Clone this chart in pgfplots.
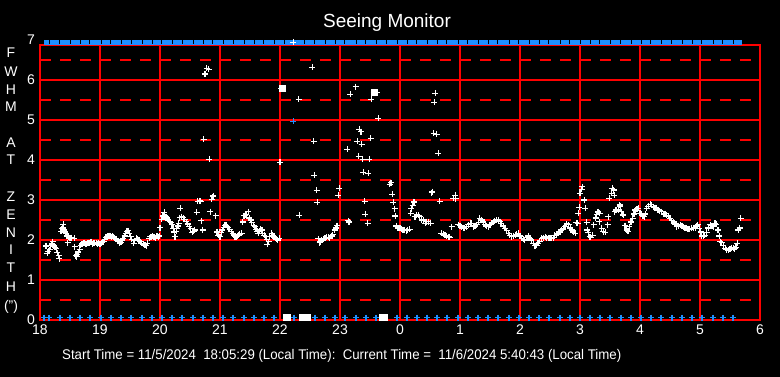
\documentclass[border=0pt]{standalone}
\usepackage{graphicx}
\usepackage{pgfplots}
\pgfplotsset{compat=1.18}
\usepackage{fontspec}
\setmainfont{Liberation Sans}
\definecolor{gridred}{RGB}{255,0,0}
\definecolor{dblue}{RGB}{30,144,255}
\newcommand{\tfont}{\fontsize{14}{16}\selectfont}
\begin{document}
\begin{tikzpicture}[x=1pt,y=1pt]
\fill[black] (0,0) rectangle (780,377);
\path[use as bounding box] (0,0) rectangle (780,377);
\begin{axis}[
 at={(40pt,57pt)}, anchor=south west,
 scale only axis, width=720pt, height=275pt,
 xmin=18, xmax=30, ymin=0, ymax=6.875,
 axis background/.style={fill=black},
 axis line style={gridred, line width=1.3pt},
 xtick={18,...,30}, xticklabels={18,19,20,21,22,23,0,1,2,3,4,5,6},
 ytick={0,...,6},
 major tick length=0pt,
 xmajorgrids=true,
 major grid style={gridred, line width=1.3pt},
 /pgf/number format/assume math mode=true,
 tick label style={white, font=\tfont},
 xticklabel style={inner sep=0pt, yshift=-5pt},
 yticklabel style={inner sep=0pt, xshift=-5pt},
 clip=false,
]
% horizontal grid lines
\addplot[draw=red, line width=1.3pt, forget plot] coordinates {(18,1)(30,1)};
\addplot[draw=red, line width=1.3pt, forget plot] coordinates {(18,2)(30,2)};
\addplot[draw=red, line width=1.3pt, forget plot] coordinates {(18,3)(30,3)};
\addplot[draw=red, line width=1.3pt, forget plot] coordinates {(18,4)(30,4)};
\addplot[draw=red, line width=1.3pt, forget plot] coordinates {(18,5)(30,5)};
\addplot[draw=red, line width=1.3pt, forget plot] coordinates {(18,6)(30,6)};
\addplot[draw=red, line width=1.3pt, dash pattern=on 11pt off 9pt, forget plot] coordinates {(18,0.5)(30,0.5)};
\addplot[draw=red, line width=1.3pt, dash pattern=on 11pt off 9pt, forget plot] coordinates {(18,1.5)(30,1.5)};
\addplot[draw=red, line width=1.3pt, dash pattern=on 11pt off 9pt, forget plot] coordinates {(18,2.5)(30,2.5)};
\addplot[draw=red, line width=1.3pt, dash pattern=on 11pt off 9pt, forget plot] coordinates {(18,3.5)(30,3.5)};
\addplot[draw=red, line width=1.3pt, dash pattern=on 11pt off 9pt, forget plot] coordinates {(18,4.5)(30,4.5)};
\addplot[draw=red, line width=1.3pt, dash pattern=on 11pt off 9pt, forget plot] coordinates {(18,5.5)(30,5.5)};
\addplot[draw=red, line width=1.3pt, dash pattern=on 11pt off 9pt, forget plot] coordinates {(18,6.5)(30,6.5)};
% top bar
\addplot[dblue, line width=5pt, forget plot] coordinates {(18.067,6.94) (29.70,6.94)};
\addplot[only marks, mark=|, mark size=2pt, black, line width=1pt, forget plot] coordinates {
(18.15,6.94)(18.333,6.94)(18.5,6.94)(18.667,6.94)(18.833,6.94)(19.017,6.94)(19.183,6.94)(19.35,6.94)(19.517,6.94)(19.7,6.94)(19.867,6.94)(20.033,6.94)(20.2,6.94)(20.367,6.94)(20.55,6.94)(20.717,6.94)(20.883,6.94)(21.05,6.94)(21.217,6.94)(21.4,6.94)(21.567,6.94)(21.733,6.94)(21.9,6.94)(22.067,6.94)(22.233,6.94)(22.4,6.94)(22.583,6.94)(22.75,6.94)(22.917,6.94)(23.083,6.94)(23.267,6.94)(23.433,6.94)(23.6,6.94)(23.767,6.94)(23.95,6.94)(24.117,6.94)(24.283,6.94)(24.45,6.94)(24.617,6.94)(24.783,6.94)(24.967,6.94)(25.133,6.94)(25.3,6.94)(25.467,6.94)(25.633,6.94)(25.817,6.94)(25.983,6.94)(26.15,6.94)(26.317,6.94)(26.483,6.94)(26.667,6.94)(26.833,6.94)(27.0,6.94)(27.167,6.94)(27.333,6.94)(27.5,6.94)(27.683,6.94)(27.85,6.94)(28.017,6.94)(28.183,6.94)(28.35,6.94)(28.533,6.94)(28.7,6.94)(28.867,6.94)(29.033,6.94)(29.217,6.94)(29.383,6.94)(29.55,6.94)};
% bottom blue markers
\addplot[only marks, mark=+, mark size=3pt, dblue, line width=1.3pt] coordinates {
(18.067,0.06)(18.15,0.06)(18.333,0.06)(18.5,0.06)(18.667,0.06)(18.833,0.06)(19.017,0.06)(19.183,0.06)(19.35,0.06)(19.517,0.06)(19.7,0.06)(19.867,0.06)(20.033,0.06)(20.2,0.06)(20.367,0.06)(20.55,0.06)(20.717,0.06)(20.883,0.06)(21.05,0.06)(21.217,0.06)(21.4,0.06)(21.567,0.06)(21.733,0.06)(21.9,0.06)(22.233,0.06)(22.583,0.06)(22.75,0.06)(22.917,0.06)(23.083,0.06)(23.267,0.06)(23.433,0.06)(23.6,0.06)(23.95,0.06)(24.117,0.06)(24.283,0.06)(24.45,0.06)(24.617,0.06)(24.783,0.06)(24.967,0.06)(25.133,0.06)(25.3,0.06)(25.467,0.06)(25.633,0.06)(25.817,0.06)(25.983,0.06)(26.15,0.06)(26.317,0.06)(26.483,0.06)(26.667,0.06)(26.833,0.06)(27.0,0.06)(27.167,0.06)(27.333,0.06)(27.5,0.06)(27.683,0.06)(27.85,0.06)(28.017,0.06)(28.183,0.06)(28.35,0.06)(28.533,0.06)(28.7,0.06)(28.867,0.06)(29.033,0.06)(29.217,0.06)(29.383,0.06)(29.55,0.06)
(22.22,4.97)};
% white zero clusters
\addplot[only marks, mark=square*, mark size=3pt, white] coordinates {
(22.10,0.06)(22.12,0.06)(22.37,0.06)(22.40,0.06)(22.43,0.06)(22.46,0.06)(23.70,0.06)(23.73,0.06)(22.03,5.79)(23.57,5.69)};
% FWHM data
\addplot[only marks, mark=+, mark size=3pt, white, line width=1.3pt] coordinates {
(22.22,6.94)
(18.10,1.85)(18.12,1.67)(18.14,1.72)(18.16,1.76)(18.18,1.86)(18.20,1.90)(18.21,1.96)(18.23,1.86)(18.25,1.82)(18.27,1.78)(18.29,1.68)(18.31,1.61)(18.32,1.53)
(18.35,2.22)(18.36,2.28)(18.38,2.30)(18.39,2.39)(18.40,2.25)(18.42,2.20)(18.43,2.17)(18.45,2.10)(18.46,1.93)(18.47,2.08)(18.49,2.06)(18.51,2.05)(18.53,2.06)(18.57,2.04)(18.58,1.83)(18.60,1.61)(18.61,1.58)(18.62,1.64)(18.64,1.70)(18.66,1.77)(18.68,1.87)(18.70,1.90)(18.72,1.92)(18.74,1.93)(18.76,1.91)(18.78,1.90)(18.80,1.93)(18.83,1.92)(18.85,1.95)(18.87,1.91)(18.89,1.92)(18.91,1.93)(18.94,1.92)(18.96,1.90)(18.98,1.93)
(19.00,1.90)(19.02,1.92)(19.04,1.95)(19.06,1.96)(19.08,2.02)(19.10,2.07)(19.11,2.08)(19.13,2.09)(19.15,2.11)(19.17,2.10)(19.19,2.08)(19.21,2.09)(19.22,2.08)(19.24,2.06)(19.26,2.03)(19.28,2.02)(19.30,1.97)(19.33,1.92)(19.35,1.94)(19.37,2.00)(19.39,2.04)(19.41,2.10)(19.43,2.17)(19.45,2.22)(19.47,2.23)(19.49,2.16)(19.51,2.08)(19.53,2.02)(19.56,1.92)(19.58,1.98)(19.61,2.04)(19.63,2.02)(19.65,1.99)(19.67,1.96)(19.69,1.92)(19.72,1.89)(19.75,1.87)(19.77,1.86)(19.79,1.92)(19.82,2.04)(19.84,2.08)(19.86,2.07)(19.88,2.10)(19.90,2.08)(19.93,2.06)(19.95,2.10)(19.97,2.08)(19.99,2.10)
(20.00,2.31)(20.03,2.52)(20.05,2.60)(20.07,2.69)(20.08,2.62)(20.10,2.58)(20.12,2.55)(20.14,2.50)(20.16,2.47)(20.18,2.44)(20.20,2.38)(20.22,2.29)(20.24,2.20)(20.25,2.08)(20.27,2.22)(20.28,2.29)(20.30,2.35)(20.31,2.42)(20.33,2.56)(20.34,2.79)(20.36,2.58)(20.39,2.56)(20.41,2.52)(20.44,2.46)(20.46,2.40)(20.49,2.33)(20.51,2.28)(20.54,2.19)(20.56,2.22)(20.58,2.25)(20.61,2.69)(20.63,2.97)(20.66,2.98)(20.68,2.97)(20.69,2.48)(20.71,2.25)(20.73,4.52)(20.75,6.15)(20.78,6.29)(20.81,6.27)(20.82,4.02)(20.84,2.71)(20.86,3.02)(20.88,3.08)(20.89,3.10)(20.93,2.61)(20.95,2.20)(20.97,2.12)
(21.00,2.08)(21.02,2.18)(21.04,2.25)(21.06,2.32)(21.08,2.37)(21.10,2.37)(21.12,2.33)(21.14,2.31)(21.16,2.27)(21.19,2.21)(21.21,2.16)(21.23,2.12)(21.25,2.08)(21.27,2.07)(21.29,2.10)(21.31,2.12)(21.33,2.14)(21.36,2.17)(21.38,2.45)(21.40,2.61)(21.42,2.62)(21.44,2.64)(21.47,2.71)(21.49,2.55)(21.51,2.50)(21.53,2.44)(21.56,2.37)(21.58,2.33)(21.60,2.27)(21.62,2.22)(21.64,2.17)(21.66,2.22)(21.68,2.27)(21.70,2.25)(21.71,2.17)(21.74,2.12)(21.76,2.08)(21.78,2.02)(21.79,1.89)(21.81,1.96)(21.83,2.08)(21.86,2.17)(21.88,2.12)(21.90,2.07)(21.92,2.04)(21.94,2.02)(21.96,2.00)(21.99,2.04)
(22.00,3.94)(22.02,5.79)(22.04,5.78)(22.31,5.52)(22.32,2.62)(22.54,6.32)(22.56,4.47)(22.57,3.62)(22.61,3.24)(22.62,2.94)(22.64,2.03)(22.66,1.93)(22.67,1.95)(22.69,2.00)(22.72,2.03)(22.75,2.04)(22.78,2.07)(22.81,2.07)(22.83,2.05)(22.86,2.10)(22.88,2.13)(22.91,2.25)(22.93,2.30)(22.95,2.36)(22.97,3.12)(22.99,3.29)
(23.12,4.27)(23.14,2.48)(23.15,2.45)(23.17,5.64)(23.26,5.83)(23.29,4.47)(23.31,4.09)(23.32,4.77)(23.35,4.71)(23.36,4.39)(23.38,4.02)(23.39,3.69)(23.41,2.97)(23.42,2.64)(23.46,2.42)(23.47,3.67)(23.49,4.02)(23.51,4.54)(23.52,5.52)(23.56,5.69)(23.58,5.68)(23.62,5.69)(23.64,5.04)(23.83,3.39)(23.85,3.43)(23.87,3.14)(23.89,2.94)(23.91,2.78)(23.92,2.60)(23.94,2.35)(23.96,2.30)(23.98,2.29)
(24.00,2.29)(24.02,2.27)(24.04,2.26)(24.06,2.25)(24.08,2.24)(24.11,2.23)(24.13,2.25)(24.16,2.27)(24.18,2.67)(24.19,2.78)(24.21,2.86)(24.23,2.96)(24.24,2.94)(24.25,2.58)(24.28,2.63)(24.31,2.62)(24.33,2.58)(24.36,2.50)(24.39,2.50)(24.42,2.42)(24.44,2.46)(24.47,2.46)(24.51,2.42)(24.53,3.18)(24.54,3.21)(24.56,4.67)(24.57,5.44)(24.59,5.67)(24.61,4.64)(24.64,4.17)(24.66,2.97)
(24.69,2.17)(24.72,2.14)(24.75,2.12)(24.78,2.10)(24.81,2.08)(24.83,2.07)(24.86,2.33)(24.89,3.04)(24.92,3.12)(24.93,3.03)(24.97,2.38)(25.00,2.36)(25.03,2.33)(25.06,2.30)(25.08,2.29)(25.11,2.33)(25.14,2.38)(25.17,2.42)(25.19,2.42)(25.22,2.33)(25.25,2.35)(25.28,2.38)(25.31,2.44)(25.33,2.54)(25.36,2.50)(25.39,2.45)(25.42,2.38)(25.44,2.35)(25.47,2.33)(25.50,2.38)(25.53,2.42)(25.56,2.45)(25.58,2.48)(25.61,2.49)(25.64,2.50)(25.67,2.46)(25.69,2.42)(25.72,2.35)(25.75,2.29)(25.78,2.23)(25.81,2.17)(25.83,2.12)(25.86,2.08)(25.89,2.09)(25.92,2.12)(25.94,2.14)(25.97,2.17)
(26.00,2.10)(26.03,2.04)(26.06,2.02)(26.08,2.00)(26.11,2.06)(26.14,2.10)(26.17,2.04)(26.19,2.00)(26.22,1.92)(26.25,1.86)(26.28,1.87)(26.30,1.92)(26.33,1.97)(26.36,2.04)(26.39,2.06)(26.42,2.08)(26.44,2.06)(26.47,2.04)(26.50,2.04)(26.53,2.04)(26.56,2.06)(26.58,2.12)(26.61,2.14)(26.64,2.17)(26.67,2.20)(26.69,2.25)(26.72,2.29)(26.75,2.33)(26.78,2.40)(26.81,2.38)(26.84,2.30)(26.86,2.25)(26.89,2.20)(26.92,2.17)(26.94,2.43)(26.96,2.42)(26.97,2.67)(26.99,2.82)
(27.00,3.17)(27.03,3.27)(27.04,3.33)(27.07,3.00)(27.09,2.79)(27.11,2.44)(27.12,2.25)(27.14,2.18)(27.16,2.08)(27.18,2.07)(27.21,2.12)(27.23,2.38)(27.26,2.55)(27.28,2.64)(27.30,2.70)(27.32,2.46)(27.33,2.67)(27.36,2.29)(27.39,2.21)(27.42,2.19)(27.46,2.38)(27.47,2.58)(27.49,3.04)(27.53,3.17)(27.54,3.29)(27.56,3.25)(27.57,3.12)(27.58,2.71)(27.60,2.75)(27.64,2.75)(27.66,2.88)(27.67,2.85)(27.69,2.71)(27.71,2.64)(27.72,2.62)(27.75,2.36)(27.78,2.25)(27.80,2.22)(27.82,2.33)(27.85,2.45)(27.88,2.54)(27.90,2.65)(27.92,2.75)(27.95,2.78)(27.97,2.79)
(28.00,2.67)(28.03,2.64)(28.05,2.60)(28.07,2.58)(28.09,2.65)(28.11,2.79)(28.14,2.84)(28.17,2.89)(28.19,2.88)(28.22,2.83)(28.25,2.81)(28.28,2.79)(28.30,2.76)(28.33,2.73)(28.36,2.71)(28.40,2.64)(28.42,2.66)(28.44,2.62)(28.47,2.60)(28.50,2.54)(28.53,2.48)(28.56,2.45)(28.58,2.40)(28.61,2.33)(28.64,2.36)(28.67,2.38)(28.70,2.36)(28.72,2.33)(28.75,2.31)(28.78,2.29)(28.80,2.28)(28.83,2.27)(28.86,2.29)(28.89,2.29)(28.92,2.30)(28.94,2.35)(28.96,2.38)(28.99,2.29)
(29.01,2.20)(29.03,2.10)(29.06,2.10)(29.08,2.12)(29.11,2.19)(29.14,2.30)(29.17,2.38)(29.20,2.36)(29.22,2.33)(29.25,2.42)(29.27,2.39)(29.30,2.25)(29.32,2.10)(29.34,1.96)(29.36,1.93)(29.39,1.86)(29.42,1.79)(29.44,1.76)(29.47,1.74)(29.50,1.77)(29.53,1.80)(29.56,1.79)(29.58,1.78)(29.60,1.82)(29.62,1.92)(29.64,2.25)(29.66,2.30)(29.68,2.54)};
\node[white, font=\tfont, anchor=east, inner sep=0pt, xshift=-5pt] at (axis cs:18,7) {7};
\end{axis}
\node[white, font=\fontsize{19}{22}\selectfont, anchor=base] at (387,349) {Seeing Monitor};
\foreach \l/\py in {F/53,W/72,H/90,M/107,A/143,T/160,Z/197,E/215,N/233,I/250,T/268,H/287,(")/307}
  \node[white, font=\tfont, inner sep=0pt] at (11,377-\py) {\l};
\node[white, anchor=base west, inner sep=0pt] at (62,17) {\resizebox{559pt}{\height}{\tfont Start Time = 11/5/2024\ \ 18:05:29 (Local Time):\ \ Current Time =\ \ 11/6/2024 5:40:43 (Local Time)}};
\end{tikzpicture}
\end{document}
